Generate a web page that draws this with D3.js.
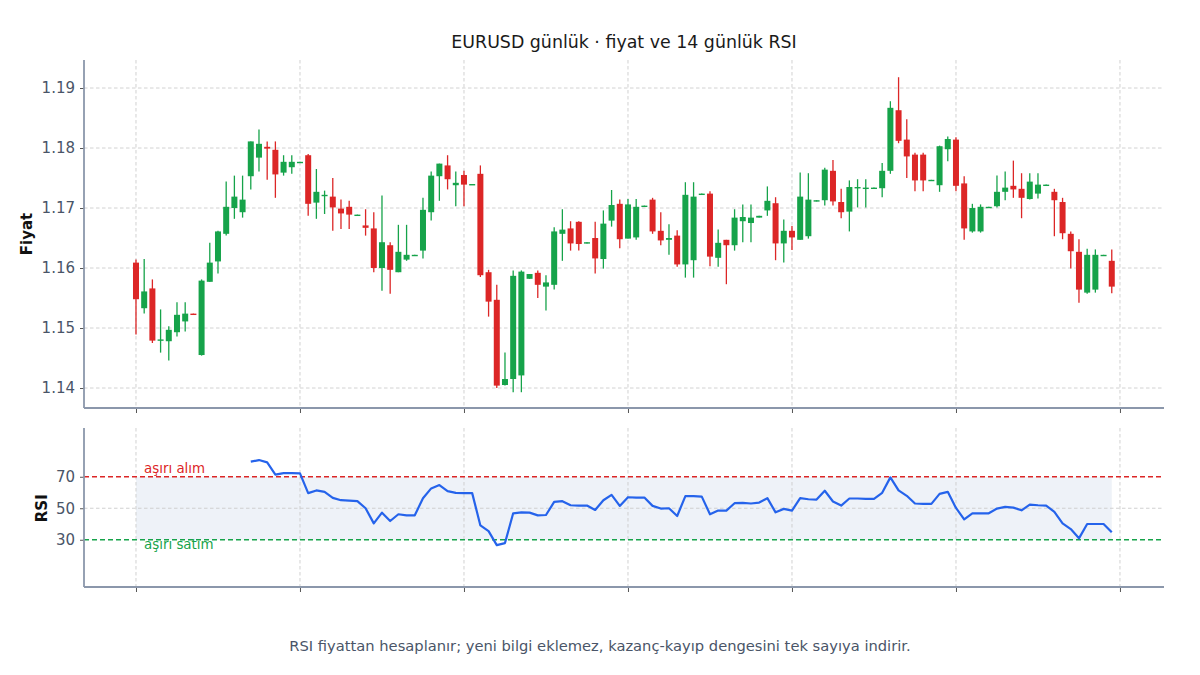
<!DOCTYPE html>
<html>
<head>
<meta charset="utf-8">
<script src="https://cdn.jsdelivr.net/npm/d3@7"></script>
<style>
  body { margin: 0; background: #fff; }
  text { font-family: "DejaVu Sans", sans-serif; }
</style>
</head>
<body>
<div id="chart"></div>
<script>
// Daily OHLC (day index 0..119)
const opens = [1.1609,1.1533,1.1566,1.1480,1.1478,1.1493,1.1511,1.1524,1.1455,1.1577,
  1.1611,1.1657,1.1700,1.1693,1.1753,1.1784,1.1802,1.1797,1.1759,1.1768,
  1.1776,1.1788,1.1709,1.1721,1.1719,1.1699,1.1702,1.1688,1.1671,1.1666,
  1.1600,1.1638,1.1593,1.1614,1.1621,1.1629,1.1693,1.1753,1.1771,1.1738,
  1.1755,1.1739,1.1757,1.1593,1.1547,1.1405,1.1415,1.1421,1.1582,1.1592,
  1.1569,1.1572,1.1657,1.1666,1.1677,1.1641,1.1650,1.1615,1.1679,1.1707,
  1.1649,1.1651,1.1702,1.1714,1.1662,1.1647,1.1654,1.1606,1.1613,1.1722,
  1.1724,1.1617,1.1647,1.1638,1.1678,1.1675,1.1684,1.1696,1.1708,1.1641,
  1.1662,1.1647,1.1653,1.1711,1.1713,1.1762,1.1710,1.1694,1.1733,1.1733,
  1.1733,1.1733,1.1762,1.1863,1.1814,1.1789,1.1789,1.1746,1.1738,1.1798,
  1.1814,1.1741,1.1661,1.1661,1.1701,1.1703,1.1727,1.1737,1.1732,1.1715,
  1.1724,1.1738,1.1727,1.1710,1.1657,1.1627,1.1559,1.1564,1.1621,1.1612];
const highs = [1.1614,1.1615,1.1581,1.1531,1.1503,1.1543,1.1543,1.1524,1.1581,1.1642,
  1.1662,1.1744,1.1754,1.1754,1.1811,1.1831,1.1811,1.1811,1.1788,1.1788,
  1.1777,1.1790,1.1765,1.1729,1.1750,1.1714,1.1712,1.1689,1.1698,1.1693,
  1.1721,1.1643,1.1672,1.1672,1.1622,1.1717,1.1761,1.1774,1.1788,1.1761,
  1.1762,1.1740,1.1771,1.1597,1.1572,1.1459,1.1596,1.1596,1.1590,1.1596,
  1.1588,1.1668,1.1698,1.1678,1.1678,1.1643,1.1677,1.1696,1.1730,1.1714,
  1.1715,1.1715,1.1704,1.1717,1.1693,1.1673,1.1663,1.1743,1.1743,1.1724,
  1.1728,1.1664,1.1647,1.1698,1.1706,1.1706,1.1687,1.1736,1.1718,1.1681,
  1.1670,1.1759,1.1758,1.1713,1.1767,1.1780,1.1732,1.1746,1.1748,1.1748,
  1.1734,1.1775,1.1878,1.1918,1.1848,1.1792,1.1792,1.1747,1.1804,1.1819,
  1.1818,1.1753,1.1707,1.1706,1.1702,1.1754,1.1761,1.1779,1.1758,1.1758,
  1.1758,1.1739,1.1732,1.1717,1.1661,1.1648,1.1632,1.1631,1.1622,1.1631];
const lows = [1.1489,1.1524,1.1475,1.1459,1.1446,1.1486,1.1494,1.1522,1.1454,1.1577,
  1.1591,1.1654,1.1682,1.1684,1.1731,1.1761,1.1747,1.1717,1.1754,1.1757,
  1.1776,1.1687,1.1682,1.1690,1.1662,1.1665,1.1665,1.1688,1.1654,1.1593,
  1.1562,1.1557,1.1593,1.1612,1.1621,1.1616,1.1679,1.1712,1.1731,1.1703,
  1.1703,1.1739,1.1585,1.1519,1.1400,1.1404,1.1393,1.1393,1.1582,1.1550,
  1.1529,1.1564,1.1612,1.1629,1.1629,1.1641,1.1591,1.1599,1.1669,1.1633,
  1.1649,1.1647,1.1702,1.1657,1.1638,1.1622,1.1602,1.1584,1.1584,1.1722,
  1.1603,1.1602,1.1573,1.1629,1.1643,1.1643,1.1684,1.1687,1.1613,1.1609,
  1.1630,1.1647,1.1649,1.1711,1.1704,1.1704,1.1683,1.1661,1.1701,1.1701,
  1.1733,1.1718,1.1757,1.1808,1.1750,1.1728,1.1728,1.1745,1.1727,1.1778,
  1.1728,1.1647,1.1659,1.1659,1.1701,1.1701,1.1713,1.1717,1.1683,1.1714,
  1.1716,1.1738,1.1653,1.1648,1.1599,1.1542,1.1557,1.1559,1.1620,1.1558];
const closes = [1.1548,1.1561,1.1479,1.1481,1.1497,1.1522,1.1524,1.1522,1.1579,1.1609,
  1.1661,1.1702,1.1719,1.1714,1.1811,1.1807,1.1799,1.1756,1.1777,1.1777,
  1.1777,1.1707,1.1727,1.1722,1.1701,1.1691,1.1689,1.1689,1.1667,1.1600,
  1.1643,1.1597,1.1627,1.1622,1.1622,1.1697,1.1754,1.1774,1.1748,1.1742,
  1.1739,1.1740,1.1588,1.1544,1.1404,1.1415,1.1587,1.1594,1.1590,1.1572,
  1.1576,1.1661,1.1664,1.1641,1.1640,1.1643,1.1616,1.1674,1.1705,1.1648,
  1.1706,1.1702,1.1704,1.1661,1.1646,1.1650,1.1606,1.1722,1.1719,1.1724,
  1.1619,1.1642,1.1638,1.1684,1.1685,1.1684,1.1687,1.1712,1.1641,1.1662,
  1.1651,1.1719,1.1714,1.1713,1.1764,1.1711,1.1693,1.1735,1.1735,1.1734,
  1.1734,1.1762,1.1867,1.1812,1.1786,1.1746,1.1746,1.1747,1.1803,1.1815,
  1.1737,1.1666,1.1700,1.1702,1.1702,1.1727,1.1734,1.1731,1.1717,1.1744,
  1.1739,1.1739,1.1713,1.1658,1.1628,1.1564,1.1622,1.1622,1.1622,1.1569];

// 14-day RSI; first value belongs to day 14
const rsiStart = 14;
const rsiValues = [79.6,80.6,79.1,71.3,72.3,72.3,72.1,59.6,61.3,60.4,56.6,55.1,54.9,54.5,50.0,40.4,
  47.2,41.9,46.2,45.5,45.5,56.4,62.6,64.7,60.9,59.8,59.6,59.6,39.1,35.5,26.6,27.9,
  46.8,47.4,47.2,45.5,45.7,54.0,54.5,51.9,51.7,51.7,48.9,55.1,58.5,51.5,57.0,56.8,
  56.8,51.5,49.8,50.0,45.1,57.7,57.7,57.4,46.2,48.5,48.5,53.2,53.4,53.0,53.6,56.4,
  47.4,49.6,48.5,56.4,55.7,55.5,61.1,54.3,51.7,56.2,56.2,56.0,56.0,59.8,69.6,61.3,
  57.9,53.0,52.8,52.8,59.1,60.4,50.2,43.0,46.8,46.8,46.8,49.8,50.9,50.4,48.7,52.3,
  51.9,51.7,47.7,40.4,36.8,30.9,40.0,40.0,40.0,34.7];

const priceTicks = [1.14, 1.15, 1.16, 1.17, 1.18, 1.19];
const rsiTicks = [30, 50, 70];
const dayTicks = [0, 20, 40, 60, 80, 100, 120];
const overbought = 70, oversold = 30;

const W = 1200, H = 675;
const left = 84, right = 1164;
const priceTop = 60, priceBottom = 408;
const rsiTop = 428, rsiBottom = 587;

const upColor = "#16a34a", downColor = "#dc2626";
const spineColor = "#8b97ab", tickText = "#4a5568", gridColor = "#cccccc";

const candles = opens.map((o, i) => ({ i, o, h: highs[i], l: lows[i], c: closes[i] }));
const rsi = rsiValues.map((v, k) => ({ i: rsiStart + k, v }));

const svg = d3.select("#chart").append("svg")
  .attr("width", W).attr("height", H);

const x = d3.scaleLinear().domain([-6.34, 125.37]).range([left, right]);
const y = d3.scaleLinear().domain([1.13667, 1.19467]).range([priceBottom, priceTop]);
const yr = d3.scaleLinear().domain([0, 100]).range([rsiBottom, rsiBottom - 157.5]);

// Title
svg.append("text")
  .attr("x", 624).attr("y", 48)
  .attr("text-anchor", "middle")
  .attr("font-size", 17.4).attr("fill", "#1a1a1a")
  .text("EURUSD günlük · fiyat ve 14 günlük RSI");

// Grids
function grid(top, bottom, yScale, yValues) {
  const g = svg.append("g");
  g.selectAll(".vg").data(dayTicks).enter().append("line")
    .attr("x1", d => x(d)).attr("x2", d => x(d))
    .attr("y1", top).attr("y2", bottom)
    .attr("stroke", gridColor).attr("stroke-width", 0.9).attr("stroke-dasharray", "3.5,2.5");
  g.selectAll(".hg").data(yValues).enter().append("line")
    .attr("x1", left).attr("x2", right)
    .attr("y1", d => yScale(d)).attr("y2", d => yScale(d))
    .attr("stroke", gridColor).attr("stroke-width", 0.9).attr("stroke-dasharray", "3.5,2.5");
}
grid(priceTop, priceBottom, y, priceTicks);

// RSI band (behind grid)
svg.append("rect")
  .attr("x", x(0)).attr("width", x(119) - x(0))
  .attr("y", yr(overbought)).attr("height", yr(oversold) - yr(overbought))
  .attr("fill", "#eef2f8");
grid(rsiTop, rsiBottom, yr, [50]);

// Candles
const cw = 6;
const cg = svg.append("g");
cg.selectAll("line").data(candles).enter().append("line")
  .attr("x1", d => x(d.i)).attr("x2", d => x(d.i))
  .attr("y1", d => y(d.h)).attr("y2", d => y(d.l))
  .attr("stroke", d => d.c >= d.o ? upColor : downColor)
  .attr("stroke-width", 1.3);
cg.selectAll("rect").data(candles).enter().append("rect")
  .attr("x", d => x(d.i) - cw / 2).attr("width", cw)
  .attr("y", d => y(Math.max(d.o, d.c)))
  .attr("height", d => Math.max(1.4, Math.abs(y(d.o) - y(d.c))))
  .attr("fill", d => d.c >= d.o ? upColor : downColor);

// Threshold lines
svg.append("line")
  .attr("x1", left).attr("x2", right)
  .attr("y1", yr(overbought)).attr("y2", yr(overbought))
  .attr("stroke", "#dc2626").attr("stroke-width", 1.4).attr("stroke-dasharray", "5,3");
svg.append("line")
  .attr("x1", left).attr("x2", right)
  .attr("y1", yr(oversold)).attr("y2", yr(oversold))
  .attr("stroke", "#16a34a").attr("stroke-width", 1.4).attr("stroke-dasharray", "5,3");
svg.append("text")
  .attr("x", 144).attr("y", yr(overbought) - 4)
  .attr("font-size", 13.4).attr("fill", "#dc2626")
  .text("aşırı alım");
svg.append("text")
  .attr("x", 144).attr("y", yr(oversold) + 9)
  .attr("font-size", 13.4).attr("fill", "#16a34a")
  .text("aşırı satım");

// RSI line
svg.append("path")
  .datum(rsi)
  .attr("fill", "none")
  .attr("stroke", "#2563eb").attr("stroke-width", 2.2)
  .attr("stroke-linejoin", "round")
  .attr("d", d3.line().x(d => x(d.i)).y(d => yr(d.v)));

// Axes (left + bottom spines only)
function axes(top, bottom, yScale, yValues, fmt) {
  const ya = svg.append("g")
    .attr("transform", `translate(${left},0)`)
    .call(d3.axisLeft(yScale).tickValues(yValues).tickFormat(fmt).tickSize(4).tickPadding(5));
  ya.select(".domain").remove();
  ya.selectAll(".tick line").attr("stroke", "#555");
  ya.selectAll(".tick text").attr("font-size", 15).attr("fill", tickText)
    .attr("font-family", "DejaVu Sans, sans-serif");

  const xa = svg.append("g")
    .attr("transform", `translate(0,${bottom})`)
    .call(d3.axisBottom(x).tickValues(dayTicks).tickFormat("").tickSize(5));
  xa.select(".domain").remove();
  xa.selectAll(".tick line").attr("stroke", "#555");

  svg.append("line").attr("x1", left).attr("x2", left)
    .attr("y1", top).attr("y2", bottom)
    .attr("stroke", spineColor).attr("stroke-width", 1.8);
  svg.append("line").attr("x1", left).attr("x2", right)
    .attr("y1", bottom).attr("y2", bottom)
    .attr("stroke", spineColor).attr("stroke-width", 1.8);
}
axes(priceTop, priceBottom, y, priceTicks, d3.format(".2f"));
axes(rsiTop, rsiBottom, yr, rsiTicks, d3.format("d"));

// Axis labels
svg.append("text")
  .attr("transform", `translate(32,${(priceTop + priceBottom) / 2}) rotate(-90)`)
  .attr("text-anchor", "middle")
  .attr("font-size", 15).attr("font-weight", "bold").attr("fill", "#111")
  .text("Fiyat");
svg.append("text")
  .attr("transform", `translate(47,${yr(50)}) rotate(-90)`)
  .attr("text-anchor", "middle")
  .attr("font-size", 15).attr("font-weight", "bold").attr("fill", "#111")
  .text("RSI");

// Caption
svg.append("text")
  .attr("x", 600).attr("y", 651)
  .attr("text-anchor", "middle")
  .attr("font-size", 14.7).attr("fill", "#4a5568")
  .text("RSI fiyattan hesaplanır; yeni bilgi eklemez, kazanç-kayıp dengesini tek sayıya indirir.");
</script>
</body>
</html>
